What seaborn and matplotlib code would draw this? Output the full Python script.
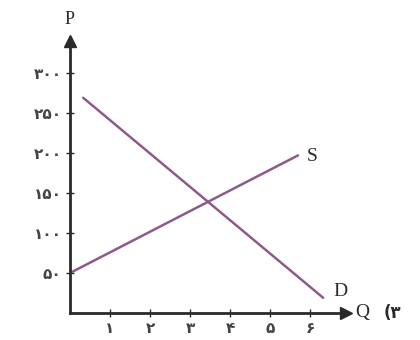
import matplotlib
matplotlib.use("Agg")
import matplotlib.pyplot as plt
import seaborn as sns
import pandas as pd

# supply / demand lines
supply_q = [0, 5.7]
supply_p = [50, 197]
demand_q = [0.33, 6.33]
demand_p = [269, 19]

x_ticks = [1, 2, 3, 4, 5, 6]
x_labels = ["۱", "۲", "۳", "۴", "۵", "۶"]
y_ticks = [50, 100, 150, 200, 250, 300]
y_labels = ["۵۰", "۱۰۰", "۱۵۰", "۲۰۰", "۲۵۰", "۳۰۰"]

line_color = "#8e5a8a"
ink = "#2a2a2a"

sns.set_style("ticks")
plt.rcParams['font.family'] = ['DejaVu Sans']

df = pd.DataFrame({
	"Q": supply_q + demand_q,
	"P": supply_p + demand_p,
	"curve": ["S"] * len(supply_q) + ["D"] * len(demand_q),
})

fig = plt.figure(figsize=(4.2, 3.4), dpi=100)
ax = fig.add_axes([70 / 420, 27 / 340, 276 / 420, 272 / 340])
sns.lineplot(data=df, x="Q", y="P", hue="curve", palette={"S": line_color, "D": line_color},
	lw=1.8, legend=False, ax=ax, estimator=None, sort=False)

ax.set_xlim(0, 6.9)
ax.set_ylim(0, 340)
sns.despine(ax=ax)
for side in ("left", "bottom"):
	ax.spines[side].set_linewidth(2)
	ax.spines[side].set_color(ink)

ax.set_xticks(x_ticks)
ax.set_xticklabels(x_labels, fontweight="bold")
ax.set_yticks(y_ticks)
ax.set_yticklabels(y_labels, fontweight="bold")
ax.tick_params(direction="inout", length=6, width=1, colors=ink, labelcolor="#444444",
	labelsize=11, pad=3)
ax.set_xlabel("")
ax.set_ylabel("")

# arrow heads
ax.plot(1, 0, ">", color=ink, ms=8, transform=ax.transAxes, clip_on=False)
ax.plot(0, 1, "^", color=ink, ms=8, transform=ax.transAxes, clip_on=False)

serif = ["Liberation Serif", "DejaVu Serif"]
ax.text(0, 1.08, "P", transform=ax.transAxes, ha="center", va="center", fontsize=13, family=serif, color=ink)
ax.text(7.3, 0, "Q", ha="center", va="center", fontsize=14, family=serif, color=ink, clip_on=False)
ax.text(7.85, 0, "(۳", ha="left", va="center", fontsize=12, fontweight="bold", color=ink, clip_on=False)
ax.text(6.05, 196, "S", ha="center", va="center", fontsize=14, family=serif, color=ink)
ax.text(6.75, 27, "D", ha="center", va="center", fontsize=14, family=serif, color=ink)

plt.savefig("out.png", dpi=100)
